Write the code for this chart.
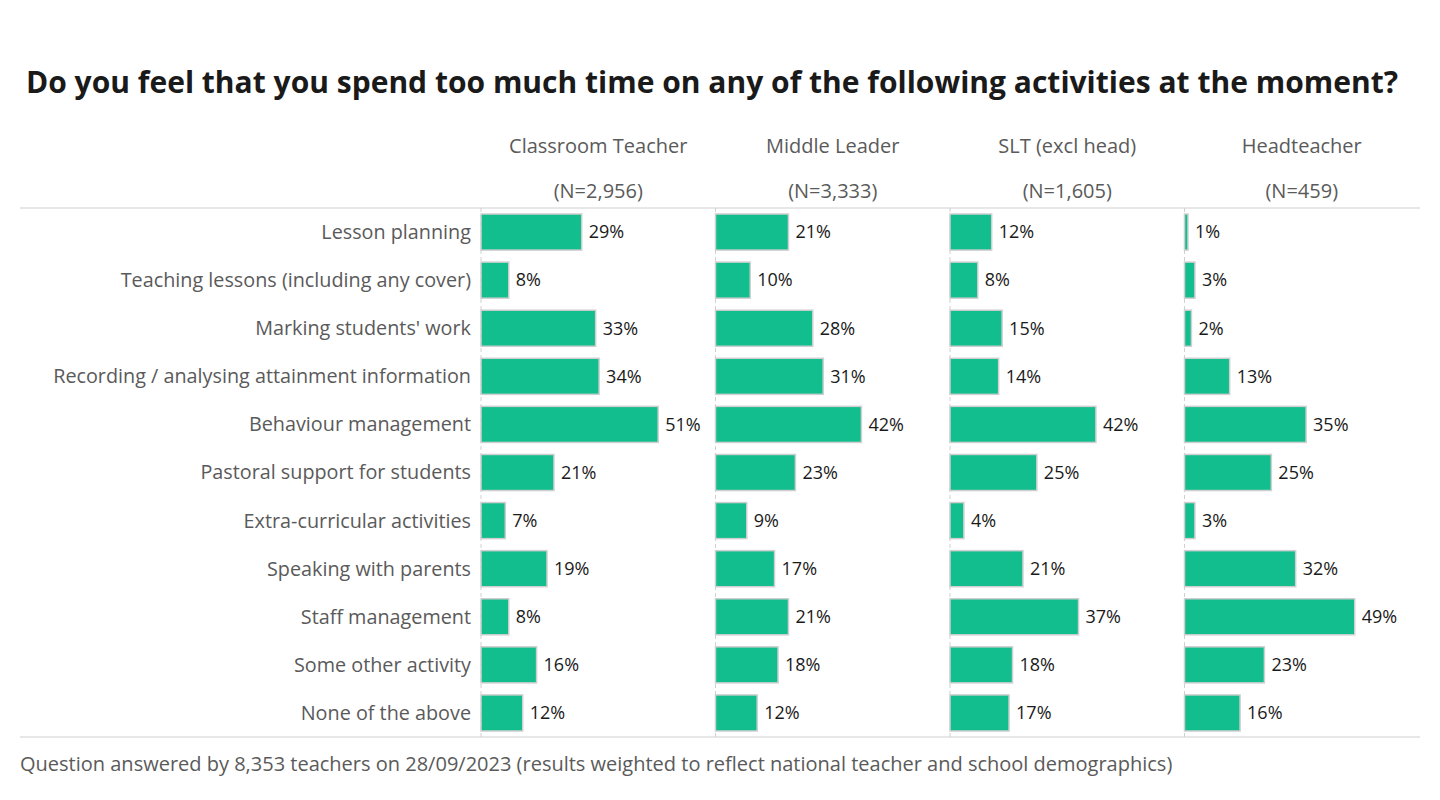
<!DOCTYPE html>
<html>
<head>
<meta charset="utf-8">
<script src="https://cdn.jsdelivr.net/npm/d3@7"></script>
<style>
  body { margin: 0; background: #fff; }
  svg { overflow: visible; }
  text { font-family: 'Open Sans', sans-serif; }
</style>
</head>
<body>
<div id="chart"></div>
<script>
const activities = [
  'Lesson planning',
  'Teaching lessons (including any cover)',
  "Marking students' work",
  'Recording / analysing attainment information',
  'Behaviour management',
  'Pastoral support for students',
  'Extra-curricular activities',
  'Speaking with parents',
  'Staff management',
  'Some other activity',
  'None of the above'
]
const roles = ['Classroom Teacher', 'Middle Leader', 'SLT (excl head)', 'Headteacher']
const sampleSizes = ['(N=2,956)', '(N=3,333)', '(N=1,605)', '(N=459)']
const classroomTeacher = [29, 8, 33, 34, 51, 21, 7, 19, 8, 16, 12]
const middleLeader = [21, 10, 28, 31, 42, 23, 9, 17, 21, 18, 12]
const sltExclHead = [12, 8, 15, 14, 42, 25, 4, 21, 37, 18, 17]
const headteacher = [1, 3, 2, 13, 35, 25, 3, 32, 49, 23, 16]
const seriesValues = [classroomTeacher, middleLeader, sltExclHead, headteacher]

const width = 1440
const height = 800
const margin = { top: 208, left: 481, right: 20, bottom: 63 }
const panelWidth = 234.5
const innerHeight = height - margin.top - margin.bottom

const svg = d3
  .select('#chart')
  .append('svg')
  .attr('width', width)
  .attr('height', height)

// Title
svg
  .append('text')
  .attr('x', 26)
  .attr('y', 93)
  .attr('font-size', 30)
  .attr('font-weight', 700)
  .attr('fill', '#1a1a1a')
  .attr('textLength', 1372)
  .text('Do you feel that you spend too much time on any of the following activities at the moment?')

// Scales
const panelScale = d3
  .scaleBand()
  .domain(roles)
  .range([margin.left, margin.left + panelWidth * roles.length])

const xPositionScale = d3
  .scaleLinear()
  .domain([0, 67.5])
  .range([0, panelWidth])

const yPositionScale = d3
  .scaleBand()
  .domain(activities)
  .range([margin.top, margin.top + innerHeight])
  .paddingInner(0.25)
  .paddingOuter(0.125)

// Horizontal rules
svg
  .selectAll('.rule')
  .data([margin.top, margin.top + innerHeight])
  .enter()
  .append('line')
  .attr('class', 'rule')
  .attr('x1', 20)
  .attr('x2', width - margin.right)
  .attr('y1', d => d)
  .attr('y2', d => d)
  .attr('stroke', '#d0d0d0')
  .attr('stroke-width', 1.2)

// Category labels
svg
  .selectAll('.cat')
  .data(activities)
  .enter()
  .append('text')
  .attr('class', 'cat')
  .attr('x', margin.left - 10)
  .attr('y', d => yPositionScale(d) + yPositionScale.bandwidth() / 2)
  .attr('dy', '0.35em')
  .attr('text-anchor', 'end')
  .attr('font-size', 19.8)
  .attr('fill', '#5a5a5a')
  .text(d => d)

// Panels
roles.forEach(function(role, i) {
  const g = svg
    .append('g')
    .attr('transform', 'translate(' + panelScale(role) + ',0)')

  g.append('text')
    .attr('x', panelWidth / 2)
    .attr('y', 153)
    .attr('text-anchor', 'middle')
    .attr('font-size', 20)
    .attr('fill', '#5a5a5a')
    .text(role)

  g.append('text')
    .attr('x', panelWidth / 2)
    .attr('y', 198)
    .attr('text-anchor', 'middle')
    .attr('font-size', 20)
    .attr('fill', '#5a5a5a')
    .text(sampleSizes[i])

  g.append('line')
    .attr('x1', 0)
    .attr('x2', 0)
    .attr('y1', margin.top)
    .attr('y2', margin.top + innerHeight)
    .attr('stroke', '#d0d0d0')
    .attr('stroke-dasharray', '4,3')

  const rows = activities.map((a, j) => ({ activity: a, value: seriesValues[i][j] }))

  g.selectAll('rect')
    .data(rows)
    .enter()
    .append('rect')
    .attr('x', 0)
    .attr('y', d => yPositionScale(d.activity))
    .attr('width', d => xPositionScale(d.value))
    .attr('height', yPositionScale.bandwidth())
    .attr('fill', '#12bd8e')
    .attr('stroke', '#cfcfcf')
    .attr('stroke-width', 1.5)

  g.selectAll('.val')
    .data(rows)
    .enter()
    .append('text')
    .attr('class', 'val')
    .attr('x', d => xPositionScale(d.value) + 7)
    .attr('y', d => yPositionScale(d.activity) + yPositionScale.bandwidth() / 2)
    .attr('dy', '0.35em')
    .attr('font-size', 18)
    .attr('fill', '#1a1a1a')
    .text(d => d.value + '%')
})

// Footer
svg
  .append('text')
  .attr('x', 20)
  .attr('y', 771)
  .attr('font-size', 20)
  .attr('fill', '#5a5a5a')
  .text('Question answered by 8,353 teachers on 28/09/2023 (results weighted to reflect national teacher and school demographics)')
</script>
</body>
</html>
